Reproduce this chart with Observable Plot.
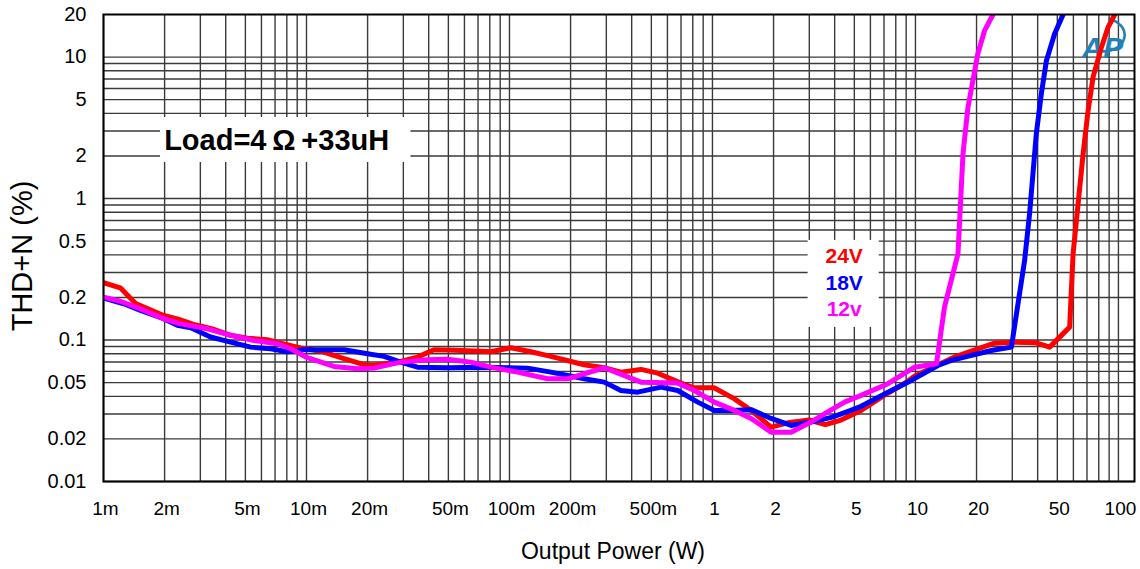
<!DOCTYPE html>
<html>
<head>
<meta charset="utf-8">
<script src="https://cdn.jsdelivr.net/npm/d3@7"></script>
<script src="https://cdn.jsdelivr.net/npm/@observablehq/plot@0.6"></script>
<style>
  body { margin: 0; background: #fff; }
  #chart svg { display: block; }
</style>
</head>
<body>
<div id="chart"></div>
<script>
// THD+N versus output power, 4 Ω + 33 µH load, at three supply voltages.

// Axis ticks and their labels
const xTicks = [0.001, 0.002, 0.005, 0.01, 0.02, 0.05, 0.1, 0.2, 0.5, 1, 2, 5, 10, 20, 50, 100];
const xTickLabels = ["1m", "2m", "5m", "10m", "20m", "50m", "100m", "200m", "500m", "1", "2", "5", "10", "20", "50", "100"];
const yTicks = [0.01, 0.02, 0.05, 0.1, 0.2, 0.5, 1, 2, 5, 10, 20];
const yTickLabels = ["0.01", "0.02", "0.05", "0.1", "0.2", "0.5", "1", "2", "5", "10", "20"];

// Series names and colours
const seriesNames = ["24V", "18V", "12v"];
const seriesColors = ["#ff0000", "#0000ff", "#ff00ff"];

// 24 V supply: output power (W) and THD+N (%)
const power24 = [0.001, 0.00121, 0.00144, 0.00198, 0.00231, 0.00278, 0.00344, 0.00423, 0.00511, 0.00641,
  0.00746, 0.00936, 0.01175, 0.0153, 0.0192, 0.0215, 0.0291, 0.0352, 0.0425, 0.0532,
  0.0723, 0.0809, 0.1016, 0.1275, 0.16, 0.233, 0.292, 0.354, 0.4445, 0.5375,
  0.70, 0.811, 1.018, 1.278, 1.55, 1.945, 2.35, 3.0, 3.6, 4.3,
  5.4, 7.02, 8.81, 10.0, 12.7, 15.5, 24.5, 30.7, 39.4, 45.8,
  57.5, 59.8, 67.0, 70.9, 75.0, 82.5, 89.0, 95.9];
const thd24 = [0.254, 0.234, 0.181, 0.149, 0.141, 0.129, 0.120, 0.108, 0.103, 0.1005,
  0.095, 0.088, 0.0834, 0.0738, 0.0669, 0.0661, 0.0706, 0.0757, 0.0854, 0.0848,
  0.0834, 0.0826, 0.0882, 0.0826, 0.0766, 0.0669, 0.0637, 0.0593, 0.062, 0.0583,
  0.0496, 0.046, 0.046, 0.0385, 0.0318, 0.0242, 0.026, 0.0272, 0.0252, 0.0272,
  0.0318, 0.0406, 0.0493, 0.056, 0.066, 0.0757, 0.095, 0.0966, 0.0955, 0.0891,
  0.1234, 0.407, 2.07, 4.19, 7.21, 11.75, 16.3, 20];

// 18 V supply
const power18 = [0.001, 0.00126, 0.00152, 0.00198, 0.00231, 0.00269, 0.00337, 0.00423, 0.00531, 0.00666,
  0.00805, 0.00972, 0.0153, 0.020, 0.0241, 0.0291, 0.0352, 0.0495, 0.075, 0.1228,
  0.16, 0.2336, 0.2931, 0.354, 0.428, 0.558, 0.6745, 0.846, 1.022, 1.235,
  1.55, 1.945, 2.441, 3.06, 3.9, 4.8, 5.4, 7.32, 9.535, 12.9,
  15.0, 23.65, 29.7, 34.5, 36.5, 39.4, 41.7, 44.2, 48.5, 53.4];
const thd18 = [0.198, 0.1805, 0.162, 0.1414, 0.127, 0.122, 0.105, 0.0966, 0.0891, 0.0868,
  0.0826, 0.0854, 0.0854, 0.080, 0.0766, 0.0698, 0.0643, 0.0637, 0.0643, 0.0633,
  0.0593, 0.0532, 0.0504, 0.044, 0.0428, 0.0465, 0.044, 0.0364, 0.0318, 0.0318,
  0.0322, 0.0279, 0.0249, 0.0263, 0.0285, 0.0318, 0.034, 0.0428, 0.0518, 0.0661,
  0.0718, 0.0844, 0.0891, 0.365, 0.781, 2.87, 5.5, 9.46, 14.6, 20];

// 12 V supply
const power12 = [0.001, 0.00121, 0.00152, 0.00198, 0.0024, 0.00325, 0.00423, 0.00551, 0.00719, 0.00836,
  0.0101, 0.01366, 0.01782, 0.0215, 0.0291, 0.0395, 0.0495, 0.0645, 0.0809, 0.1096,
  0.154, 0.193, 0.293, 0.4445, 0.6745, 0.814, 1.022, 1.282, 1.55, 1.945,
  2.44, 3.06, 3.56, 4.47, 5.40, 7.32, 9.9, 12.7, 13.9, 16.2,
  17.15, 18.15, 20.3, 21.9, 24.1];
const thd12 = [0.201, 0.188, 0.166, 0.1414, 0.130, 0.120, 0.108, 0.0993, 0.0941, 0.0868,
  0.075, 0.0651, 0.0627, 0.0633, 0.0698, 0.0726, 0.0731, 0.0698, 0.0643, 0.0593,
  0.0532, 0.0532, 0.0637, 0.0504, 0.0496, 0.044, 0.0364, 0.0318, 0.0279, 0.0223,
  0.0223, 0.0263, 0.0301, 0.0364, 0.0406, 0.0491, 0.0643, 0.068, 0.171, 0.407,
  2.07, 4.43, 10.55, 15.4, 20];

// Annotations
const loadLabel = "Load=4\u2009\u03A9\u2009+33uH";
const loadBox = [{x1: 0.00191, x2: 0.0327, y1: 1.80, y2: 3.74}];
const loadAnchor = [{x: 0.00713, y: 2.57}];
const legendBox = [{x1: 2.96, x2: 6.63, y1: 0.1228, y2: 0.506}];
const legendPos = [{x: 4.455, y: 0.39}, {x: 4.455, y: 0.251}, {x: 4.455, y: 0.1645}];

// Long-format rows for the line mark
const rows = [
  ...power24.map((p, i) => ({p, thd: thd24[i], s: seriesNames[0]})),
  ...power18.map((p, i) => ({p, thd: thd18[i], s: seriesNames[1]})),
  ...power12.map((p, i) => ({p, thd: thd12[i], s: seriesNames[2]}))
];

const xDomain = [0.001, 120];
const yDomain = [0.01, 20];

// Grid lines at every 1..9 step of each decade
const xGrid = d3.scaleLog().domain([0.001, 100]).ticks();
const yGrid = d3.scaleLog().domain([0.01, 10]).ticks();

const font = "'Liberation Sans', Arial, Helvetica, sans-serif";
const gridStroke = "#3a3a3a";
const logoColor = "#2280b8";

const legendRows = seriesNames.map((s, i) => ({...legendPos[i], s}));

// Swoosh of the AP logo, drawn in the frame's top-right corner
function logoArc(width, height) {
  const right = 1134, top = 14;
  const cx = right - 24, cy = top + 21;
  return d3.create("svg:path")
    .attr("d", `M${cx - 10},${cy + 16} A19,15 0 1 0 ${cx - 2},${cy - 16}`)
    .attr("fill", "none")
    .attr("stroke", logoColor)
    .attr("stroke-width", 2.6)
    .node();
}

const chart = Plot.plot({
  width: 1140,
  height: 569,
  marginLeft: 103,
  marginRight: 6,
  marginTop: 14,
  marginBottom: 88,
  style: {fontFamily: font, color: "#000", background: "#fff"},
  x: {type: "log", domain: xDomain, range: [103, 1134], axis: null},
  y: {type: "log", domain: yDomain, range: [481, 14], axis: null},
  color: {domain: seriesNames, range: seriesColors},
  marks: [
    Plot.ruleX(xGrid, {stroke: gridStroke, strokeWidth: 1.4}),
    Plot.ruleY(yGrid, {stroke: gridStroke, strokeWidth: 1.4}),
    Plot.rect(loadBox, {x1: "x1", x2: "x2", y1: "y1", y2: "y2", fill: "#fff"}),
    Plot.rect(legendBox, {x1: "x1", x2: "x2", y1: "y1", y2: "y2", fill: "#fff"}),
    Plot.text(loadAnchor, {x: "x", y: "y", text: () => loadLabel, fontSize: 29, fontWeight: "bold", fill: "#000", fontFamily: font}),
    Plot.text(legendRows, {x: "x", y: "y", text: "s", fill: "s", fontSize: 21, fontWeight: "bold", fontFamily: font}),
    // AP logo in the top-right corner
    logoArc,
    Plot.text(["AP"], {frameAnchor: "top-right", textAnchor: "middle", dx: -32, dy: 22, text: d => d, fontSize: 30, fontStyle: "italic", fontWeight: "bold", fill: logoColor, fontFamily: font}),
    Plot.line(rows, {x: "p", y: "thd", z: "s", stroke: "s", strokeWidth: 5, strokeLinejoin: "round", clip: true}),
    Plot.frame({stroke: "#000", strokeWidth: 2}),
    // Tick labels
    Plot.text(xTicks, {x: d => d, frameAnchor: "bottom", lineAnchor: "top", dy: 20, dx: 2, text: (d, i) => xTickLabels[i], fontSize: 19, fill: "#000", fontFamily: font}),
    Plot.text(yTicks, {y: d => d, frameAnchor: "left", textAnchor: "end", lineAnchor: "middle", dx: -17, text: (d, i) => yTickLabels[i], fontSize: 20, fill: "#000", fontFamily: font}),
    // Axis titles
    Plot.text(["Output Power (W)"], {frameAnchor: "bottom", textAnchor: "middle", dy: 70, dx: -6, text: d => d, fontSize: 23, lineAnchor: "middle", fill: "#000", fontFamily: font}),
    Plot.text(["THD+N (%)"], {frameAnchor: "left", textAnchor: "middle", dx: -81, dy: 8, rotate: -90, text: d => d, fontSize: 29, lineAnchor: "middle", fill: "#000", fontFamily: font})
  ]
});

document.getElementById("chart").appendChild(chart);
</script>
</body>
</html>
